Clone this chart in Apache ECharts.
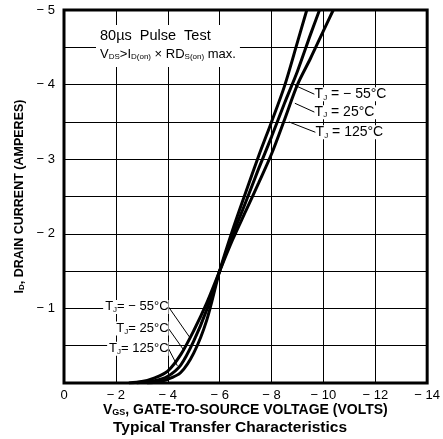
<!DOCTYPE html>
<html>
<head>
<meta charset="utf-8">
<script src="https://cdn.jsdelivr.net/npm/echarts@6/dist/echarts.min.js"></script>
<style>
  html, body { margin: 0; padding: 0; background: #fff; }
  #chart { width: 443px; height: 439px; }
</style>
</head>
<body>
<div id="chart"></div>
<script>
// tick labels
var xTicks = [0, -2, -4, -6, -8, -10, -12, -14];
var yTicks = [-1, -2, -3, -4, -5];

// Tj = -55 C
var vgs55 = [-3.2, -3.5, -4, -4.5, -5, -5.5, -6, -6.5, -7, -7.5, -8, -8.5, -9, -9.36];
var id55 = [0, -0.01, -0.05, -0.14, -0.4, -0.84, -1.5, -2.05, -2.55, -3.04, -3.5, -3.98, -4.57, -5.0];
// Tj = 25 C
var vgs25 = [-2.8, -3, -3.5, -4, -4.5, -5, -5.5, -6, -6.5, -7, -7.5, -8, -8.5, -9, -9.5, -9.85];
var id25 = [0, -0.01, -0.03, -0.09, -0.24, -0.56, -0.98, -1.5, -1.98, -2.42, -2.87, -3.3, -3.75, -4.18, -4.67, -5.0];
// Tj = 125 C
var vgs125 = [-2.5, -3, -3.5, -4, -4.5, -5, -5.5, -6, -6.5, -7, -7.5, -8, -8.5, -9, -9.5, -10, -10.38];
var id125 = [0, -0.02, -0.07, -0.16, -0.38, -0.7, -1.07, -1.5, -1.92, -2.3, -2.68, -3.07, -3.53, -4.0, -4.35, -4.72, -5.0];

var upperNames = [' = \u2212 55\u00b0C', ' = 25\u00b0C', ' = 125\u00b0C'];
var lowerNames = ['= \u2212 55\u00b0C', '= 25\u00b0C', '= 125\u00b0C'];

function pairs(xs, ys) {
  var out = [];
  for (var i = 0; i < xs.length; i++) out.push([xs[i], ys[i]]);
  return out;
}
function neg(v) {
  return v === 0 ? '0' : '\u2212 ' + Math.abs(v);
}

var FONT = '"Liberation Sans", Arial, sans-serif';
var richUp = {
  t: { fontFamily: FONT, fontSize: 14, color: '#000' },
  s: { fontFamily: FONT, fontSize: 8, color: '#000', padding: [6, 0, 0, 0] }
};
var richLow = {
  t: { fontFamily: FONT, fontSize: 13, color: '#000' },
  s: { fontFamily: FONT, fontSize: 8, color: '#000', padding: [6, 0, 0, 0] }
};

// label anchor and pointer end for each curve, upper and lower
var upperAnchor = [[-9.66, -3.87], [-9.66, -3.63], [-9.7, -3.36]];
var upperEnd = [[-8.9, -3.99], [-8.9, -3.75], [-8.67, -3.5]];
var lowerAnchor = [[-4.03, -1.02], [-4.03, -0.73], [-4.03, -0.46]];
var lowerEnd = [[-4.87, -0.6], [-4.64, -0.43], [-4.37, -0.23]];

function makeSeries(idx, xs, ys) {
  return {
    type: 'line',
    data: pairs(xs, ys),
    smooth: 0.3,
    showSymbol: false,
    symbol: 'none',
    lineStyle: { color: '#000', width: 3 },
    z: 3,
    markLine: {
      silent: true,
      symbol: 'none',
      lineStyle: { color: '#000', width: 1, type: 'solid' },
      label: { show: false },
      data: [
        [{ coord: upperAnchor[idx] }, { coord: upperEnd[idx] }],
        [{ coord: lowerAnchor[idx] }, { coord: lowerEnd[idx] }]
      ]
    },
    markPoint: {
      silent: true,
      symbol: 'circle',
      symbolSize: 0,
      data: [
        { coord: upperAnchor[idx], label: { show: true, position: 'right', distance: 0, formatter: '{t|T}{s|J}{t|' + upperNames[idx] + '}', rich: richUp, backgroundColor: '#fff', padding: [0, 2, 0, 0] } },
        { coord: lowerAnchor[idx], label: { show: true, position: 'left', distance: 0, formatter: '{t|T}{s|J}{t|' + lowerNames[idx] + '}', rich: richLow, backgroundColor: '#fff', padding: [0, 0, 0, 2] } }
      ]
    }
  };
}

var chart = echarts.init(document.getElementById('chart'));
var option = {
  animation: false,
  backgroundColor: '#fff',
  grid: {
    left: 64, right: 11, top: 10, bottom: 56,
    show: true, borderColor: '#000', borderWidth: 3
  },
  xAxis: {
    type: 'value',
    min: -14, max: 0, interval: 2,
    inverse: true,
    axisLine: { show: false },
    axisTick: { show: false },
    splitLine: { show: true, lineStyle: { color: '#000', width: 1 } },
    axisLabel: {
      margin: 6, fontFamily: FONT, fontSize: 13, color: '#000',
      formatter: function (v) { return xTicks.indexOf(v) >= 0 ? neg(v) : ''; }
    }
  },
  yAxis: {
    type: 'value',
    min: -5, max: 0, interval: 0.5,
    inverse: true,
    axisLine: { show: false },
    axisTick: { show: false },
    splitLine: { show: true, lineStyle: { color: '#000', width: 1 } },
    axisLabel: {
      margin: 9, fontFamily: FONT, fontSize: 13, color: '#000',
      formatter: function (v) { return yTicks.indexOf(v) >= 0 ? neg(v) : ''; }
    },
    name: '{b|I}{bs|D}{b|, DRAIN CURRENT (AMPERES)}',
    nameLocation: 'middle',
    nameRotate: 90,
    nameGap: 37,
    nameTextStyle: {
      rich: {
        b: { fontFamily: FONT, fontSize: 12.5, fontWeight: 'bold', color: '#000' },
        bs: { fontFamily: FONT, fontSize: 8, fontWeight: 'bold', color: '#000', padding: [5, 0, 0, 0] }
      }
    }
  },
  graphic: [
    {
      type: 'text', left: 96, top: 25, z: 10,
      style: {
        text: '{h|80\u00b5s  Pulse  Test}\n{n|V}{s|DS}{n|>I}{s|D(on)}{n| \u00d7 RD}{s|S(on)}{n| max.}',
        backgroundColor: '#fff', padding: [2, 4, 4, 4],
        rich: {
          h: { fontFamily: FONT, fontSize: 14.5, color: '#000', lineHeight: 18 },
          n: { fontFamily: FONT, fontSize: 13, color: '#000', lineHeight: 18 },
          s: { fontFamily: FONT, fontSize: 8, color: '#000', padding: [6, 0, 0, 0] }
        }
      }
    },
    {
      type: 'text', left: 103, top: 403,
      style: {
        text: '{b|V}{bs|GS}{b|, GATE-TO-SOURCE VOLTAGE (VOLTS)}',
        rich: {
          b: { fontFamily: FONT, fontSize: 14, fontWeight: 'bold', color: '#000' },
          bs: { fontFamily: FONT, fontSize: 9, fontWeight: 'bold', color: '#000', padding: [6, 0, 0, 0] }
        }
      }
    },
    {
      type: 'text', left: 113, top: 420,
      style: {
        text: 'Typical Transfer Characteristics',
        fontFamily: FONT, fontSize: 15.5, fontWeight: 'bold', fill: '#000'
      }
    }
  ],
  series: [
    makeSeries(0, vgs55, id55),
    makeSeries(1, vgs25, id25),
    makeSeries(2, vgs125, id125)
  ]
};
chart.setOption(option);
</script>
</body>
</html>
